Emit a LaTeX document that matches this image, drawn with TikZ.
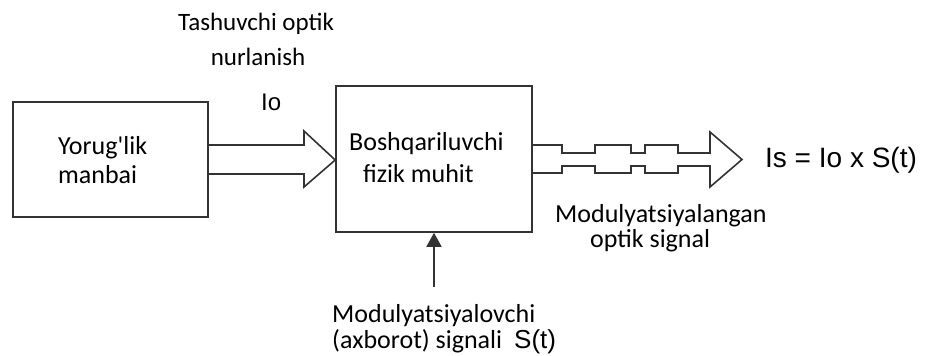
\documentclass[tikz,border=0pt]{standalone}
\usepackage{fontspec}
\setmainfont{Carlito}
\newfontfamily\arialf{Liberation Sans}
\usetikzlibrary{arrows.meta}
\begin{document}
\begin{tikzpicture}[x=1pt,y=-1pt,
  boxst/.style={draw=black!80, line width=1.6pt, inner sep=0pt, minimum width=#1},
  lnst/.style={draw=black!80, line width=1.6pt, line join=miter},
  lbl/.style={inner sep=0pt, align=left, text=black}]
\useasboundingbox (0,0) rectangle (927,356);
% boxes
\node[boxst=195pt, minimum height=115pt] (src) at (110.5,159.5) {};
\node[boxst=196pt, minimum height=146pt] (mid) at (434,159) {};
% texts (base anchor = baseline of the last line)
\node[lbl, anchor=base west, font=\fontsize{26}{29}\selectfont] (srct) at (58,183) {Yorug\textquotesingle lik\\manbai};
\node[lbl, anchor=base west, font=\fontsize{26}{32}\selectfont] (midt) at (349,182) {Boshqariluvchi\\\hspace*{14pt}fizik muhit};
\node[lbl, align=center, anchor=base, font=\fontsize{25}{35}\selectfont] (cart) at (256,65) {Tashuvchi optik\\\hspace*{4pt}nurlanish};
\node[lbl, anchor=base west, font=\arialf\fontsize{24}{25}\selectfont] (io) at (261,110) {Io};
\node[lbl, anchor=base west, font=\fontsize{26}{25}\selectfont] (modt) at (555,247) {Modulyatsiyalangan\\\hspace*{35pt}optik signal};
\node[lbl, anchor=base west, font=\arialf\fontsize{28}{32}\selectfont] (is) at (765,167) {Is = Io x S(t)};
\node[lbl, anchor=base west, font=\fontsize{26}{26}\selectfont] (sigt) at (332,348) {Modulyatsiyalovchi\\(axborot) signali\hspace{12pt}{\arialf\fontsize{26}{26}\selectfont S(t)}};
% carrier arrow
\draw[lnst] (src.east |- 0,145) -- (304,145) -- (304,131) -- (mid.west |- 0,160) -- (304,187) -- (304,174) -- (src.east |- 0,174);
% modulated arrow
\draw[lnst] (mid.east |- 0,145) -- (562,145) -- (562,153) -- (595,153) -- (595,145) -- (631,145) -- (631,153) -- (645,153) -- (645,145) -- (678,145) -- (678,153) -- (710,153) -- (710,132) -- (742,159.5) -- (710,187) -- (710,166) -- (678,166) -- (678,173) -- (645,173) -- (645,166) -- (631,166) -- (631,173) -- (595,173) -- (595,166) -- (562,166) -- (562,173) -- (mid.east |- 0,173);
% signal arrow
\coordinate (sig) at (434,287);
\draw[lnst, -{Triangle[width=15pt,length=14pt]}] (sig) -- (mid.south);
\end{tikzpicture}
\end{document}
